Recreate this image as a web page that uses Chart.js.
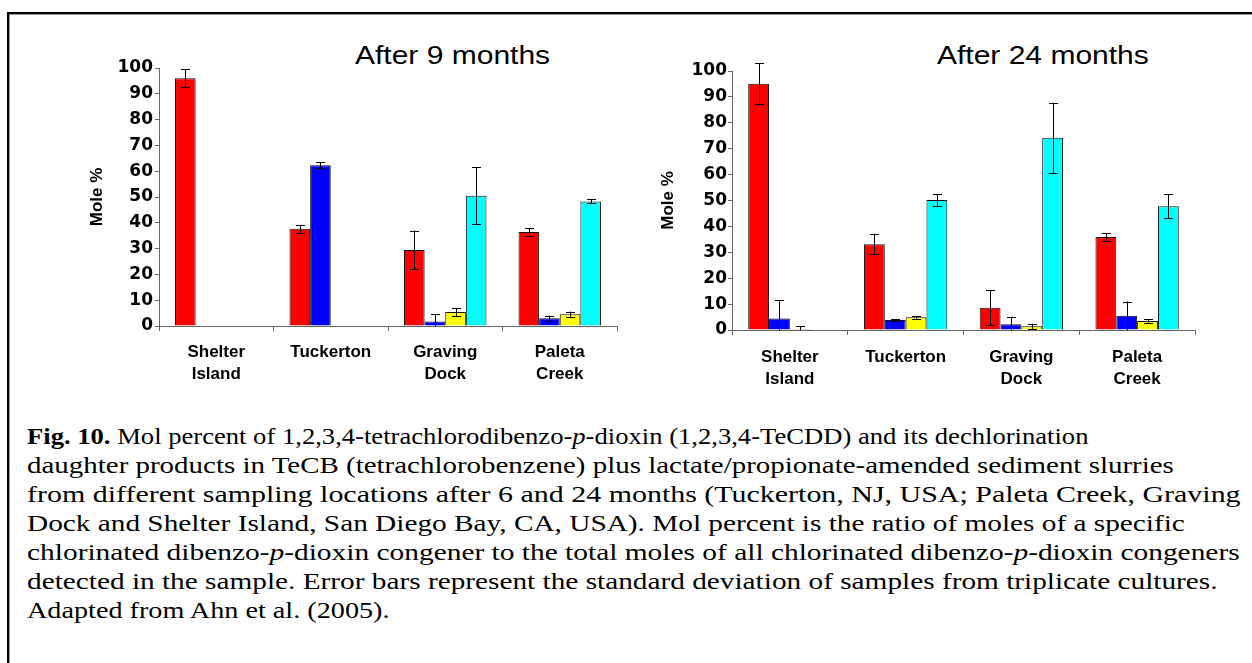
<!DOCTYPE html>
<html>
<head>
<meta charset="utf-8">
<script src="https://cdn.jsdelivr.net/npm/chart.js@4"></script>
<style>
  html, body { margin: 0; padding: 0; background: #fff; overflow: hidden; }
  body { width: 1252px; height: 663px; position: relative; }
  .frame { position: absolute; left: 7px; top: 12px; width: 1300px; height: 700px;
    border-top: 2px solid #000; border-left: 2px solid #000; box-shadow: inset 1px 1px 0 #999; }
  .box { position: absolute; }
  .title { position: absolute; font-family: "Liberation Sans", Arial, sans-serif; font-size: 25px;
    line-height: 25px; white-space: nowrap; color: #000; transform: scaleX(1.2); transform-origin: 0 0; }
  .caption { position: absolute; left: 27px; top: 422px; font-family: "Liberation Serif", "Times New Roman", serif;
    font-size: 24px; line-height: 29px; color: #000; }
  .caption div { white-space: nowrap; width: max-content; transform-origin: 0 0; }
</style>
</head>
<body>
<div class="frame"></div>
<div class="title" style="left:355px; top:43px;">After 9 months</div>
<div class="title" style="left:937px; top:43px;">After 24 months</div>
<div class="box" style="left:85px; top:40px; width:555px; height:350px;"><canvas id="chart9"></canvas></div>
<div class="box" style="left:648px; top:40px; width:576px; height:355px;"><canvas id="chart24"></canvas></div>
<div class="caption">
  <div data-end="1088"><b>Fig. 10.</b> Mol percent of 1,2,3,4-tetrachlorodibenzo-<i>p</i>-dioxin (1,2,3,4-TeCDD) and its dechlorination</div>
  <div data-end="1174">daughter products in TeCB (tetrachlorobenzene) plus lactate/propionate-amended sediment slurries</div>
  <div data-end="1240">from different sampling locations after 6 and 24 months (Tuckerton, NJ, USA; Paleta Creek, Graving</div>
  <div data-end="1185">Dock and Shelter Island, San Diego Bay, CA, USA). Mol percent is the ratio of moles of a specific</div>
  <div data-end="1240">chlorinated dibenzo-<i>p</i>-dioxin congener to the total moles of all chlorinated dibenzo-<i>p</i>-dioxin congeners</div>
  <div data-end="1218">detected in the sample. Error bars represent the standard deviation of samples from triplicate cultures.</div>
  <div data-end="390">Adapted from Ahn et al. (2005).</div>
</div>

<script>
const sites = [["Shelter", "Island"], "Tuckerton", ["Graving", "Dock"], ["Paleta", "Creek"]];
const yTicks = [0, 10, 20, 30, 40, 50, 60, 70, 80, 90, 100];
const colors = ["#ff0000", "#0000ff", "#ffff00", "#00ffff"];

// after 9 months
const red9 = [96, 37.7, 29.5, 36.4];
const red9Err = [3.5, 1.5, 7.5, 1.4];
const blue9 = [0, 62.3, 1.7, 3.0];
const blue9Err = [null, 1.2, 2.8, 1.0];
const yellow9 = [0, 0, 5.4, 4.6];
const yellow9Err = [null, null, 1.5, 1.0];
const cyan9 = [0, 0, 50.5, 48.3];
const cyan9Err = [null, null, 11, 0.8];

// after 24 months
const red24 = [95.1, 33.1, 8.6, 35.9];
const red24Err = [8, 3.8, 6.8, 1.5];
const blue24 = [4.4, 3.9, 2.2, 5.5];
const blue24Err = [7.2, 0.3, 3, 5.5];
const yellow24 = [0.4, 4.9, 1.4, 3.5];
const yellow24Err = [1, 0.5, 1, 0.7];
const cyan24 = [0.2, 50.2, 74.2, 47.8];
const cyan24Err = [null, 2.3, 13.5, 4.6];

Chart.defaults.font.family = '"Liberation Sans", Arial, sans-serif';
Chart.defaults.color = "#000";

// error bars from the errs array on each dataset
const errorBars = {
	id: "errorBars",
	afterDatasetsDraw(chart) {
		let ctx = chart.ctx;
		let y = chart.scales.y;
		ctx.save();
		ctx.strokeStyle = "#000";
		ctx.lineWidth = 1;
		chart.data.datasets.forEach((ds, i) => {
			let meta = chart.getDatasetMeta(i);
			meta.data.forEach((bar, j) => {
				let e = ds.errs[j];
				if (e == null) return;
				let v = ds.data[j];
				let top = y.getPixelForValue(v + e);
				let bot = y.getPixelForValue(Math.max(v - e, 0));
				let x = Math.round(bar.x) + 0.5;
				ctx.beginPath();
				ctx.moveTo(x, top);
				ctx.lineTo(x, bot);
				ctx.moveTo(x - 4.5, Math.round(top) + 0.5);
				ctx.lineTo(x + 4.5, Math.round(top) + 0.5);
				if (v - e > 0) {
					ctx.moveTo(x - 4.5, Math.round(bot) + 0.5);
					ctx.lineTo(x + 4.5, Math.round(bot) + 0.5);
				}
				ctx.stroke();
			});
		});
		ctx.restore();
	}
};

function makeChart(id, series, errs, opts) {
	let datasets = series.map((s, i) => ({
		data: s,
		errs: errs[i],
		backgroundColor: colors[i],
		borderColor: "#111",
		borderWidth: 1,
		categoryPercentage: 0.72,
		barPercentage: 1.0
	}));

	return new Chart(document.getElementById(id), {
		type: "bar",
		data: { labels: sites, datasets: datasets },
		plugins: [errorBars],
		options: {
			responsive: true,
			maintainAspectRatio: false,
			animation: false,
			layout: { padding: { left: 0, right: opts.padRight, top: opts.padTop, bottom: 0 } },
			plugins: { legend: { display: false }, tooltip: { enabled: false } },
			scales: {
				x: {
					grid: { drawOnChartArea: false, drawTicks: true, tickLength: 5, color: "#666" },
					border: { color: "#666" },
					ticks: { font: { size: 17, weight: "bold", lineHeight: 1.3 }, padding: opts.xPad, maxRotation: 0 },
					afterFit(scale) { scale.height = opts.xHeight; }
				},
				y: {
					min: 0,
					max: 100,
					afterBuildTicks(scale) { scale.ticks = yTicks.map(v => ({ value: v })); },
					grid: { drawOnChartArea: false, drawTicks: true, tickLength: 4, color: "#666" },
					border: { color: "#666" },
					ticks: { font: { family: '"DejaVu Sans", sans-serif', size: 17, weight: "bold" }, padding: opts.yPad },
					title: { display: true, text: "Mole %", font: { size: 17, weight: "bold" }, padding: { top: opts.titlePad, bottom: 0 } },
					afterFit(scale) { scale.width = opts.yWidth; }
				}
			}
		}
	});
}

let ch9 = makeChart("chart9",
	[red9, blue9, yellow9, cyan9],
	[red9Err, blue9Err, yellow9Err, cyan9Err],
	{ padRight: 23, padTop: 28, xHeight: 64, yWidth: 74, xPad: 10.5, yPad: 2, titlePad: 2 });

let ch24 = makeChart("chart24",
	[red24, blue24, yellow24, cyan24],
	[red24Err, blue24Err, yellow24Err, cyan24Err],
	{ padRight: 29, padTop: 31, xHeight: 65, yWidth: 84, xPad: 11.5, yPad: 1, titlePad: 10 });

// stretch each caption line to the width it has in the figure
function fitCaption() {
	document.querySelectorAll(".caption div").forEach(line => {
		let w = line.offsetWidth;
		let target = Number(line.dataset.end) - 27;
		line.style.transform = "scaleX(" + (target / w) + ")";
	});
}
fitCaption();
if (document.fonts) document.fonts.ready.then(fitCaption);
</script>
</body>
</html>
